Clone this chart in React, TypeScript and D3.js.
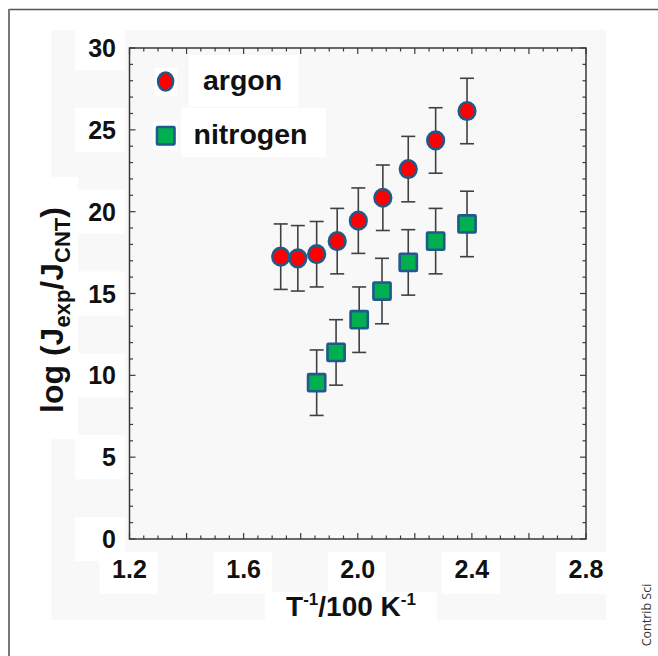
import React from "react";
import * as d3 from "d3";

// ---- data ----
const argonT = [1.73, 1.79, 1.856, 1.928, 2.002, 2.088, 2.177, 2.273, 2.383];
const argonLog = [17.25, 17.15, 17.4, 18.2, 19.45, 20.85, 22.6, 24.35, 26.15];
const argonErr = [2.0, 2.0, 2.0, 2.0, 2.0, 2.0, 2.0, 2.0, 2.0];
const nitrogenT = [1.856, 1.924, 2.005, 2.085, 2.177, 2.273, 2.383];
const nitrogenLog = [9.55, 11.4, 13.4, 15.15, 16.9, 18.2, 19.25];
const nitrogenErr = [2.0, 2.0, 2.0, 2.0, 2.0, 2.0, 2.0];
const xTickLabels = ["1.2", "1.6", "2.0", "2.4", "2.8"];
const yTickLabels = ["0", "5", "10", "15", "20", "25", "30"];
const legendLabels = ["argon", "nitrogen"];

const W = 658;
const H = 656;
const FONT = "'Liberation Sans', Arial, Helvetica, sans-serif";

export default function App() {
  const left = 129.5, right = 586, top = 48, bottom = 539;
  const x = d3.scaleLinear().domain([1.2, 2.8]).range([left, right]);
  const y = d3.scaleLinear().domain([0, 30]).range([bottom, top]);

  const xMinor = d3.range(0, 33).map((i) => 1.2 + i * 0.05);
  const yMinor = d3.range(0, 31);
  const axisColor = "#3a3a3a";

  const argon = argonT.map((t, i) => ({ t, v: argonLog[i], e: argonErr[i] }));
  const nitrogen = nitrogenT.map((t, i) => ({ t, v: nitrogenLog[i], e: nitrogenErr[i] }));

  const capHalf = 7;
  const errBars = (data: { t: number; v: number; e: number }[], key: string) =>
    data.map((d, i) => {
      const cx = x(d.t);
      const y1 = y(d.v + d.e);
      const y2 = y(d.v - d.e);
      return (
        <g key={key + i} stroke="#404040" strokeWidth={1.6}>
          <line x1={cx} x2={cx} y1={y1} y2={y2} />
          <line x1={cx - capHalf} x2={cx + capHalf} y1={y1} y2={y1} />
          <line x1={cx - capHalf} x2={cx + capHalf} y1={y2} y2={y2} />
        </g>
      );
    });

  const markerStroke = "#1f5a8a";

  return (
    <svg
      width={W}
      height={H}
      style={{ position: "absolute", left: 0, top: 0, background: "#ffffff" }}
    >
      {/* outer frame lines */}
      <line x1={9} x2={W} y1={9.5} y2={9.5} stroke="#555" strokeWidth={1.5} />
      <line x1={9} x2={9} y1={9} y2={H} stroke="#777" strokeWidth={2} />

      {/* light gray panel */}
      <rect x={51.5} y={30} width={554.5} height={590} fill="#f8f8f8" />

      {/* white patches behind texts */}
      <rect x={40} y={177} width={38} height={262} fill="#ffffff" />
      {yTickLabels.map((lab, i) => (
        <rect key={"yb" + i} x={75} y={y(+lab) - 22} width={50} height={44} fill="#ffffff" />
      ))}
      {xTickLabels.map((lab, i) => (
        <rect key={"xb" + i} x={x(+lab) - 30} y={552} width={58} height={42} fill="#ffffff" />
      ))}
      <rect x={265} y={592} width={172} height={28} fill="#ffffff" />
      <rect x={188.5} y={55} width={110} height={52} fill="#ffffff" />
      <rect x={181} y={108} width={145} height={49} fill="#ffffff" />
      <rect x={155} y={68} width={22} height={28} fill="#ffffff" />
      <rect x={153} y={122} width={24} height={28} fill="#ffffff" />

      {/* plot frame */}
      <rect
        x={left}
        y={top}
        width={right - left}
        height={bottom - top}
        fill="none"
        stroke={axisColor}
        strokeWidth={1.5}
      />

      {/* x ticks (bottom and top, inward) */}
      {xMinor.map((t, i) => {
        const len = i % 4 === 0 ? 6 : 3.5;
        const px = x(t);
        return (
          <g key={"xt" + i} stroke={axisColor} strokeWidth={1.2}>
            <line x1={px} x2={px} y1={bottom} y2={bottom - len} />
            <line x1={px} x2={px} y1={top} y2={top + len} />
          </g>
        );
      })}
      {/* y ticks (left and right, inward) */}
      {yMinor.map((v, i) => {
        const len = i % 5 === 0 ? 6 : 3.5;
        const py = y(v);
        return (
          <g key={"yt" + i} stroke={axisColor} strokeWidth={1.2}>
            <line x1={left} x2={left + len} y1={py} y2={py} />
            <line x1={right} x2={right - len} y1={py} y2={py} />
          </g>
        );
      })}

      {/* tick labels */}
      {yTickLabels.map((lab, i) => (
        <text
          key={"yl" + i}
          x={116}
          y={y(+lab)}
          dy="0.36em"
          textAnchor="end"
          fontFamily={FONT}
          fontWeight="bold"
          fontSize={25}
          fill="#111"
        >
          {lab}
        </text>
      ))}
      {xTickLabels.map((lab, i) => (
        <text
          key={"xl" + i}
          x={x(+lab)}
          y={578}
          textAnchor="middle"
          fontFamily={FONT}
          fontWeight="bold"
          fontSize={25}
          fill="#111"
        >
          {lab}
        </text>
      ))}

      {/* axis titles */}
      <text
        x={351}
        y={616}
        textAnchor="middle"
        fontFamily={FONT}
        fontWeight="bold"
        fontSize={28}
        fill="#111"
      >
        T<tspan fontSize={17} dy={-11}>-1</tspan>
        <tspan dy={11}>/100 K</tspan>
        <tspan fontSize={17} dy={-11}>-1</tspan>
      </text>
      <text
        transform={`translate(63, 310) rotate(-90)`}
        textAnchor="middle"
        fontFamily={FONT}
        fontWeight="bold"
        fontSize={32}
        fill="#111"
      >
        log (J<tspan fontSize={22} dy={7}>exp</tspan>
        <tspan dy={-7}>/J</tspan>
        <tspan fontSize={22} dy={7}>CNT</tspan>
        <tspan dy={-7}>)</tspan>
      </text>

      {/* error bars */}
      {errBars(argon, "ae")}
      {errBars(nitrogen, "ne")}

      {/* markers */}
      {argon.map((d, i) => (
        <ellipse
          key={"am" + i}
          cx={x(d.t)}
          cy={y(d.v)}
          rx={8.3}
          ry={8.8}
          fill="#ff0000"
          stroke={markerStroke}
          strokeWidth={2.6}
        />
      ))}
      {nitrogen.map((d, i) => (
        <rect
          key={"nm" + i}
          x={x(d.t) - 8.6}
          y={y(d.v) - 8.6}
          width={17.2}
          height={17.2}
          fill="#00b050"
          stroke={markerStroke}
          strokeWidth={2.6}
          rx={1}
        />
      ))}

      {/* legend */}
      <ellipse cx={165.6} cy={81.5} rx={7.5} ry={9} fill="#ff0000" stroke={markerStroke} strokeWidth={2.6} />
      <text x={203} y={90} fontFamily={FONT} fontWeight="bold" fontSize={28.5} fill="#111">
        {legendLabels[0]}
      </text>
      <rect x={157} y={127} width={17.5} height={17.5} fill="#00b050" stroke={markerStroke} strokeWidth={2.6} rx={1} />
      <text x={193.5} y={144} fontFamily={FONT} fontWeight="bold" fontSize={28.5} fill="#111">
        {legendLabels[1]}
      </text>

      {/* source credit */}
      <text
        transform={`translate(651, 615) rotate(-90)`}
        textAnchor="middle"
        fontFamily="'Open Sans', 'Noto Sans', sans-serif"
        fontSize={12.5}
        fill="#333"
      >
        Contrib Sci
      </text>
    </svg>
  );
}
